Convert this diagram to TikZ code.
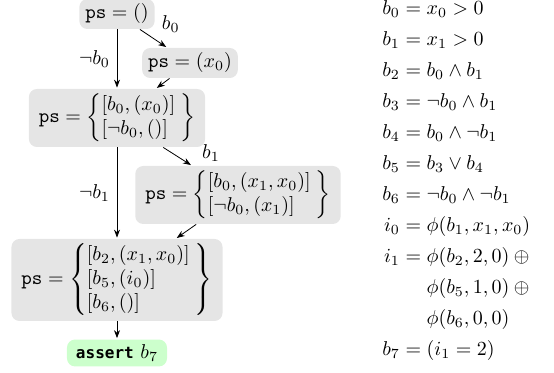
\documentclass[tikz,border=0pt]{standalone}
\usepackage{amsmath}
\usepackage{array}
\usepackage{fontspec}
\newfontfamily\asrtfont{DejaVu Sans Mono}
\usetikzlibrary{arrows.meta}
\newcolumntype{P}{@{}l@{\hspace{2.5pt}}}

\begin{document}
\begin{tikzpicture}[x=0.5pt, y=-0.5pt, ps/.style={fill=gray!20, rounded corners=4pt, inner xsep=3pt, inner ysep=2.5pt}, pset/.style={ps, inner xsep=5pt}, ok/.style={ps, fill=green!20, inner xsep=4.5pt}, arr/.style={-{Stealth[length=4pt]}, shorten >=0.5pt}]
\useasboundingbox (0,0) rectangle (554,373);
\node[ps] (p0) at (117,14) {$\mathtt{ps} = ()$};
\node[ps] (p1) at (190,63) {$\mathtt{ps} = (x_0)$};
\node[pset] (p2) at (117,118) {$\mathtt{ps} = \left\{\begin{array}{P} [b_0, (x_0)] \\ \relax[\neg b_0, ()] \end{array}\right\}$};
\node[pset] (p3) at (238,195) {$\mathtt{ps} = \left\{\begin{array}{P} [b_0, (x_1, x_0)] \\ \relax[\neg b_0, (x_1)] \end{array}\right\}$};
\node[pset] (p4) at (117,280) {$\mathtt{ps} = \left\{\begin{array}{P} [b_2, (x_1, x_0)] \\ \relax[b_5, (i_0)] \\ \relax[b_6, ()] \end{array}\right\}$};
\node[ok] (a) at (117,353) {{\asrtfont\bfseries\fontsize{8}{10}\selectfont assert} $b_7$};
\draw[arr] (p0) -- node[above right, pos=0.55] {$b_0$} (p1);
\draw[arr] (p0) -- node[left] {$\neg b_0$} (p2);
\draw[arr] (p1) -- (p2);
\draw[arr] (p2) -- node[right=14pt, pos=0.3, inner sep=1pt] {$b_1$} (p3);
\draw[arr] (p2) -- node[left] {$\neg b_1$} (p4);
\draw[arr] (p3) -- (p4);
\draw[arr] (p4) -- (a);
% definitions of the branch variables
\node[anchor=base west, inner sep=0] (defs) at (382,15) {\setlength{\jot}{3.5pt}$\begin{aligned}[t]
b_0 &= x_0 > 0 \\
b_1 &= x_1 > 0 \\
b_2 &= b_0 \wedge b_1 \\
b_3 &= \neg b_0 \wedge b_1 \\
b_4 &= b_0 \wedge \neg b_1 \\
b_5 &= b_3 \vee b_4 \\
b_6 &= \neg b_0 \wedge \neg b_1 \\
i_0 &= \phi(b_1, x_1, x_0) \\
i_1 &= \phi(b_2, 2, 0) \oplus {} \\
&\phantom{{}={}} \phi(b_5, 1, 0) \oplus {} \\
&\phantom{{}={}} \phi(b_6, 0, 0) \\
b_7 &= (i_1 = 2)
\end{aligned}$};
\end{tikzpicture}
\end{document}
